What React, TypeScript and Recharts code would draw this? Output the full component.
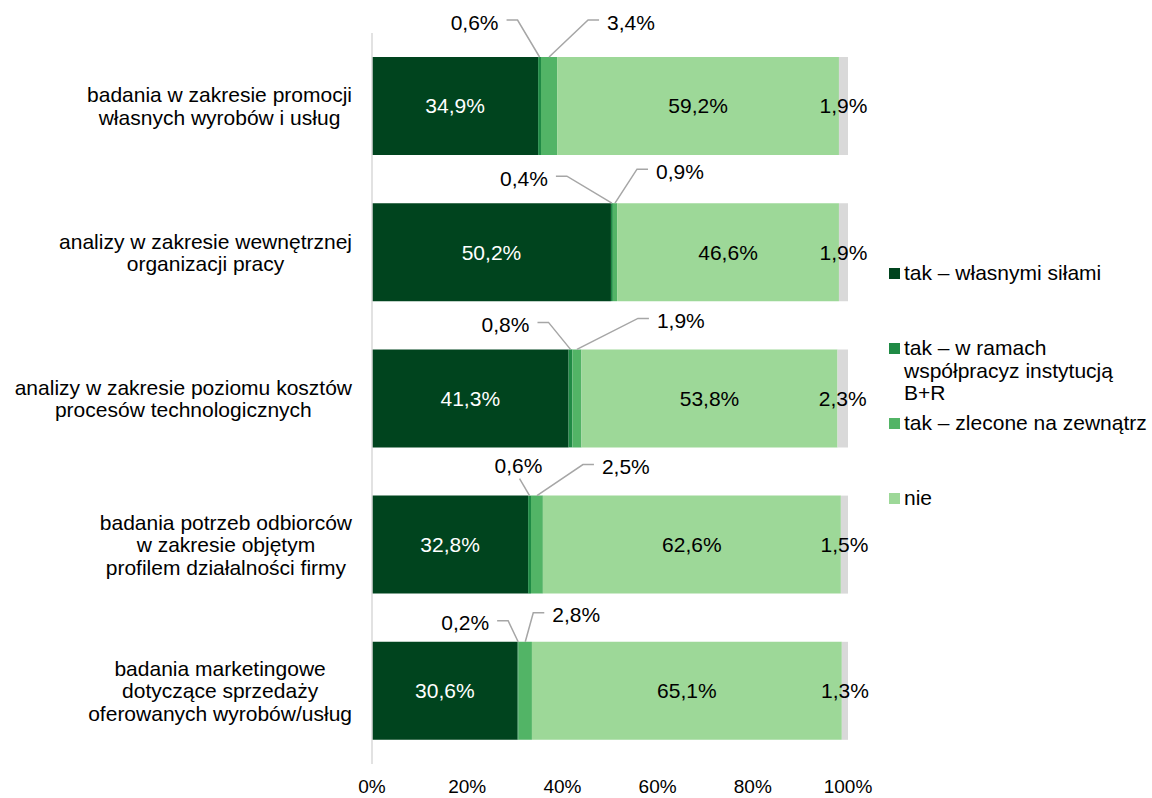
import { BarChart, Bar, XAxis, YAxis, Legend, LabelList } from 'recharts';

const categories = [
  'badania w zakresie promocji\nwłasnych wyrobów i usług',
  'analizy w zakresie wewnętrznej\norganizacji pracy',
  'analizy w zakresie poziomu kosztów\nprocesów technologicznych',
  'badania potrzeb odbiorców\nw zakresie objętym\nprofilem działalności firmy',
  'badania marketingowe\ndotyczące sprzedaży\noferowanych wyrobów/usług',
];

const wlasnymiSilami = [34.9, 50.2, 41.3, 32.8, 30.6];
const wspolpracaBR = [0.6, 0.4, 0.8, 0.6, 0.2];
const zlecone = [3.4, 0.9, 1.9, 2.5, 2.8];
const nie = [59.2, 46.6, 53.8, 62.6, 65.1];
const brakOdpowiedzi = [1.9, 1.9, 2.3, 1.5, 1.3];

const xTicks = [0, 20, 40, 60, 80, 100];

const SERIES = [
  { key: 'wlasne', name: 'tak – własnymi siłami', color: '#00441e' },
  { key: 'wspolpraca', name: 'tak – w ramach\nwspółpracyz instytucją\nB+R', color: '#1f8a45' },
  { key: 'zlecone', name: 'tak – zlecone na zewnątrz', color: '#52b466' },
  { key: 'nie', name: 'nie', color: '#9dd898' },
  { key: 'brak', name: 'brak odpowiedzi', color: '#d9d9d9' },
];

// elbow offsets of the leader lines for the two thin segments, per row
const LEADERS: { left: [number, number, boolean?]; right: [number, number] }[] = [
  { left: [-22, -37], right: [39, -37] },
  { left: [-45, -27], right: [22, -34] },
  { left: [-22, -27], right: [61, -31] },
  { left: [-10, -17, true], right: [46, -31] },
  { left: [-10, -21], right: [8, -29] },
];

const FONT = '"Liberation Sans", Arial, sans-serif';
const FS = 21;
const LINE_H = 22.5;

const data = categories.map((name, i) => ({
  name,
  wlasne: wlasnymiSilami[i],
  wspolpraca: wspolpracaBR[i],
  zlecone: zlecone[i],
  nie: nie[i],
  brak: brakOdpowiedzi[i],
}));

const pct = (v: number) => `${Number(v).toFixed(1).replace('.', ',')}%`;

let measureCtx: CanvasRenderingContext2D | null = null;
const textWidth = (s: string, size: number) => {
  if (!measureCtx) measureCtx = document.createElement('canvas').getContext('2d');
  if (!measureCtx) return s.length * size * 0.5;
  measureCtx.font = `${size}px "Liberation Sans", Arial, sans-serif`;
  return measureCtx.measureText(s).width;
};

function CategoryTick(props: any) {
  const { x, y, payload } = props;
  const lines: string[] = String(payload.value).split('\n');
  const maxW = Math.max(...lines.map((l) => textWidth(l, FS)));
  const right = x - 12;
  const cx = right - maxW / 2;
  return (
    <g>
      {lines.map((l, i) => (
        <text
          key={i}
          x={cx}
          y={y + (i - (lines.length - 1) / 2) * LINE_H}
          textAnchor="middle"
          dominantBaseline="central"
          fontSize={FS}
          fill="#000"
        >
          {l}
        </text>
      ))}
    </g>
  );
}

const leaderLabel = (side: 'left' | 'right') => (props: any) => {
  const { x, y, width, value, index } = props;
  const cfg = LEADERS[index][side];
  const cx = Number(x) + Number(width) / 2;
  const top = Number(y);
  const ex = cx + cfg[0];
  const ey = top + cfg[1];
  if (side === 'left' && cfg[2]) {
    return (
      <g>
        <path d={`M${cx},${top}L${ex},${ey}`} stroke="#a6a6a6" strokeWidth={1.5} fill="none" />
        <text x={ex - 1} y={ey - 13} textAnchor="middle" dominantBaseline="central" fontSize={FS} fill="#000">
          {pct(value)}
        </text>
      </g>
    );
  }
  const dir = side === 'left' ? -1 : 1;
  const hx = ex + dir * 11;
  return (
    <g>
      <path d={`M${cx},${top}L${ex},${ey}L${hx},${ey}`} stroke="#a6a6a6" strokeWidth={1.5} fill="none" />
      <text
        x={hx + dir * 8}
        y={ey + 2}
        textAnchor={side === 'left' ? 'end' : 'start'}
        dominantBaseline="central"
        fontSize={FS}
        fill="#000"
      >
        {pct(value)}
      </text>
    </g>
  );
};

function LegendBox(props: any) {
  const order = SERIES.map((s) => s.name);
  const items = (props.payload || [])
    .filter((p: any) => p.type !== 'none')
    .sort((a: any, b: any) => order.indexOf(a.value) - order.indexOf(b.value));
  return (
    <div style={{ fontFamily: FONT, fontSize: FS, lineHeight: `${LINE_H}px`, color: '#000' }}>
      {items.map((p: any) => (
        <div key={p.value} style={{ display: 'flex', height: 75 }}>
          <div style={{ width: 11, height: 11, background: p.color, marginTop: 6, marginRight: 4, flexShrink: 0 }} />
          <div style={{ whiteSpace: 'pre' }}>{p.value}</div>
        </div>
      ))}
    </div>
  );
}

export default function App() {
  return (
    <div style={{ position: 'absolute', left: 0, top: 0, width: 1152, height: 798, background: '#fff', fontFamily: FONT }}>
      <BarChart
        width={1152}
        height={798}
        data={data}
        layout="vertical"
        margin={{ top: 33, right: 304, bottom: 0, left: 0 }}
        barSize={98}
      >
        <XAxis
          type="number"
          domain={[0, 100]}
          ticks={xTicks}
          allowDataOverflow
          tickFormatter={(v) => `${v}%`}
          axisLine={false}
          tickLine={false}
          tickSize={0}
          tickMargin={16}
          height={34}
          tick={{ fill: '#000', fontSize: 19 }}
        />
        <YAxis
          type="category"
          dataKey="name"
          width={372}
          interval={0}
          axisLine={{ stroke: '#d9d9d9', strokeWidth: 1.5 }}
          tickLine={false}
          tick={<CategoryTick />}
        />
        <Legend
          layout="horizontal"
          align="center"
          verticalAlign="middle"
          content={<LegendBox />}
          wrapperStyle={{ position: 'absolute', left: 889, top: 262, width: 263 }}
        />
        {SERIES.map((s) => (
          <Bar
            key={s.key}
            dataKey={s.key}
            name={s.name}
            stackId="a"
            fill={s.color}
            isAnimationActive={false}
            legendType={s.key === 'brak' ? 'none' : 'square'}
          >
            {s.key === 'wlasne' && (
              <LabelList dataKey={s.key} position="center" fill="#fff" fontSize={FS} formatter={(v: any) => pct(v)} />
            )}
            {(s.key === 'nie' || s.key === 'brak') && (
              <LabelList dataKey={s.key} position="center" fill="#000" fontSize={FS} formatter={(v: any) => pct(v)} />
            )}
            {s.key === 'wspolpraca' && <LabelList dataKey={s.key} content={leaderLabel('left')} />}
            {s.key === 'zlecone' && <LabelList dataKey={s.key} content={leaderLabel('right')} />}
          </Bar>
        ))}
      </BarChart>
    </div>
  );
}
